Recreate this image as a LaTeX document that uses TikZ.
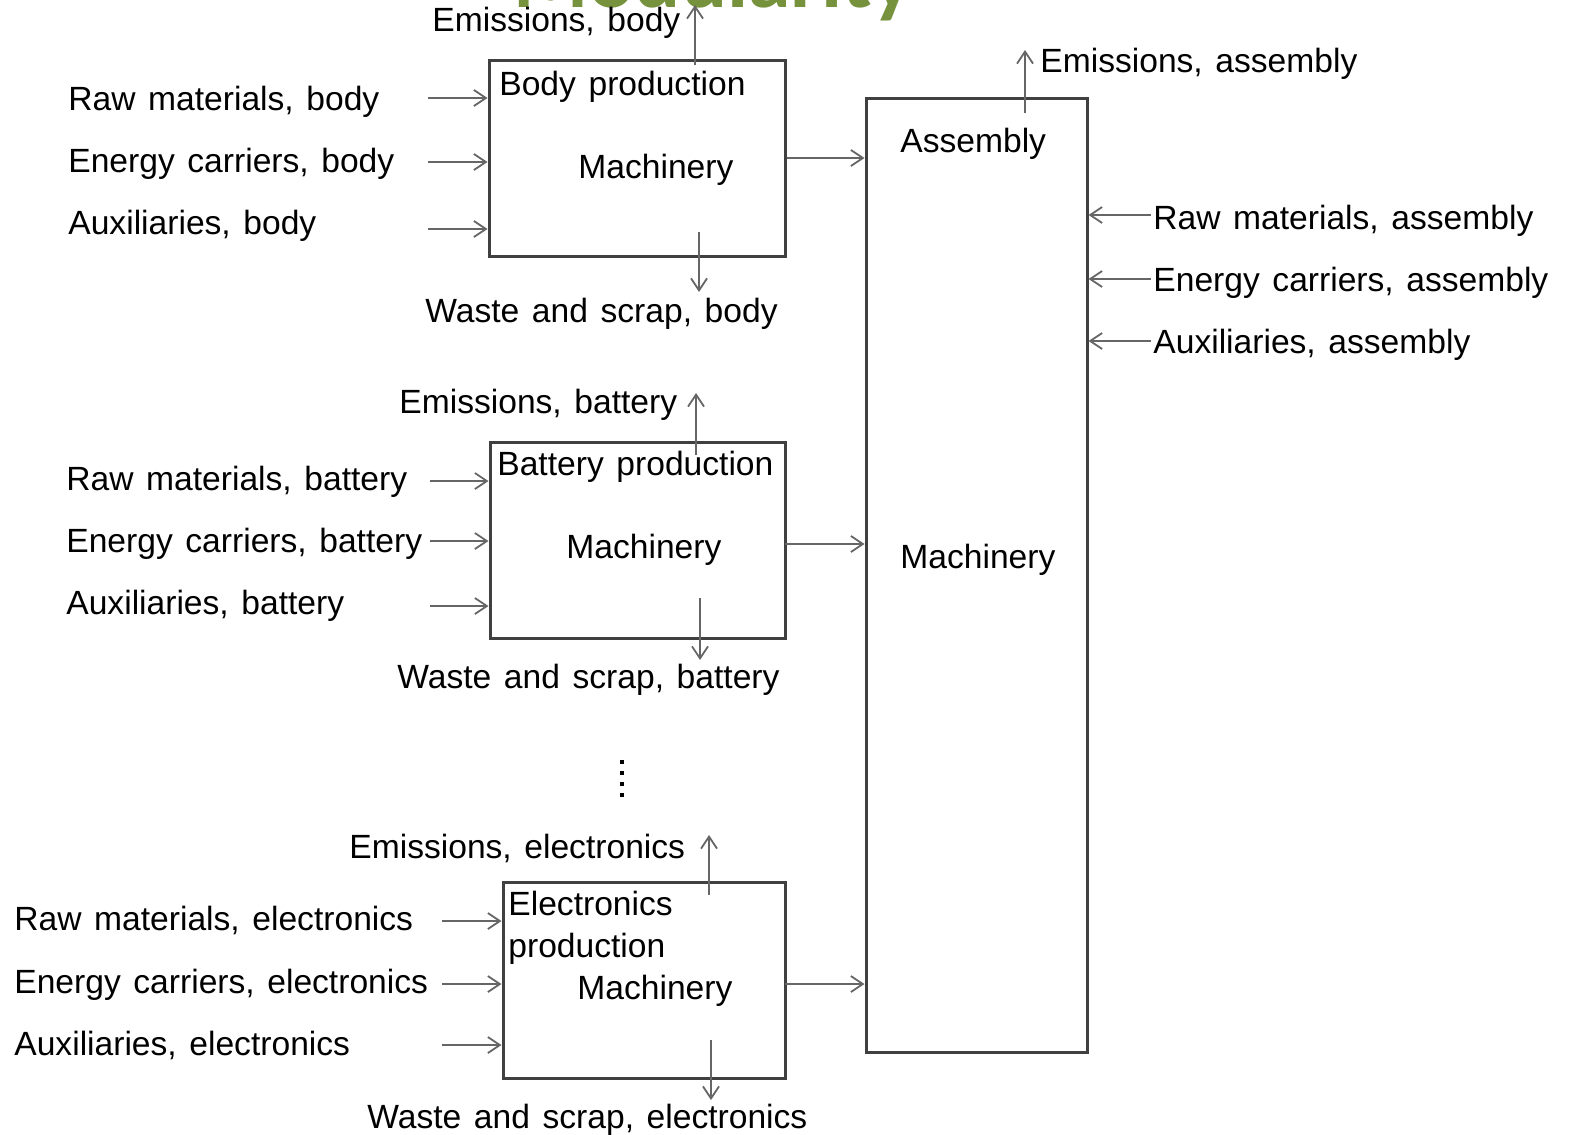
\documentclass[tikz,border=0pt]{standalone}
\usepackage{fontspec}
\setmainfont{Liberation Sans}[WordSpace=1.35]
\newfontfamily\titlefont{Carlito}
\usetikzlibrary{arrows.meta,fit}
\definecolor{boxline}{HTML}{404040}
\definecolor{flow}{HTML}{666666}
\definecolor{titlegreen}{HTML}{76923C}
\begin{document}
\begin{tikzpicture}[x=0.5pt,y=-0.5pt,
  box/.style={draw=boxline,line width=1.5pt,inner sep=0pt},
  flowarrow/.style={draw=flow,line width=1pt,-{Straight Barb[length=6pt,width=8pt,line width=0.9pt]}},
  lbl/.style={anchor=base west,inner sep=0pt,font=\fontsize{16.8}{19}\selectfont}]
\useasboundingbox (0,0) rectangle (1569,1135);
\fill[white] (0,0) rectangle (1569,1135);

% heading above the picture, only its lower edge in view
\begin{scope}
\clip (0,0) rectangle (1569,1135);
\node[anchor=base west,inner sep=0pt,text=titlegreen,font=\titlefont\bfseries\fontsize{43}{46}\selectfont] (title) at (513,7) {Modularity};
\end{scope}

% process boxes
\node[box,fit={(489,60)(785,256)}] (body) {};
\node[box,fit={(490,442)(785,638)}] (batt) {};
\node[box,fit={(503,882)(785,1078)}] (elec) {};
\node[box,fit={(866,98)(1087,1052)}] (asm) {};

% ---------------- body production ----------------
\node[lbl] (bodyT) at (499,95) {Body production};
\node[lbl] (bodyM) at (578,178) {Machinery};
\node[lbl] (bodyR) at (68,110) {Raw materials, body};
\node[lbl] (bodyE) at (68,172) {Energy carriers, body};
\node[lbl] (bodyA) at (68,234) {Auxiliaries, body};
\node[lbl] (bodyEm) at (432,32) {Emissions, body};
\node[lbl] (bodyW) at (425,322) {Waste and scrap, body};
\coordinate (bodyIn1) at (428,98);
\coordinate (bodyIn2) at (428,162);
\coordinate (bodyIn3) at (428,229);
\coordinate (bodyEm0) at (695,65);
\coordinate (bodyEm1) at (695,5);
\coordinate (bodyW0) at (699,232);
\coordinate (bodyW1) at (699,292);
\foreach \c in {bodyIn1,bodyIn2,bodyIn3}
  \draw[flowarrow] (\c) -- (\c -| body.west);
\draw[flowarrow] (bodyEm0) -- (bodyEm1);
\draw[flowarrow] (bodyW0) -- (bodyW1);
\draw[flowarrow] (body.east) -- (body.east -| asm.west);

% ---------------- battery production ----------------
\node[lbl] (battT) at (497,475) {Battery production};
\node[lbl] (battM) at (566,558) {Machinery};
\node[lbl] (battR) at (66,490) {Raw materials, battery};
\node[lbl] (battE) at (66,552) {Energy carriers, battery};
\node[lbl] (battA) at (66,614) {Auxiliaries, battery};
\node[lbl] (battEm) at (399,413) {Emissions, battery};
\node[lbl] (battW) at (397,688) {Waste and scrap, battery};
\coordinate (battIn1) at (430,481);
\coordinate (battIn2) at (430,541);
\coordinate (battIn3) at (430,606);
\coordinate (battEm0) at (696,455);
\coordinate (battEm1) at (696,393);
\coordinate (battW0) at (700,598);
\coordinate (battW1) at (700,660);
\coordinate (battOut) at (785,544);
\foreach \c in {battIn1,battIn2,battIn3}
  \draw[flowarrow] (\c) -- (\c -| batt.west);
\draw[flowarrow] (battEm0) -- (battEm1);
\draw[flowarrow] (battW0) -- (battW1);
\draw[flowarrow] (battOut) -- (battOut -| asm.west);

% further modules omitted
\foreach \yy in {762,773,784,795}
  \fill (620,\yy-2) rectangle (624,\yy+2);

% ---------------- electronics production ----------------
\node[lbl] (elecT1) at (508,915) {Electronics};
\node[lbl] (elecT2) at (508,957) {production};
\node[lbl] (elecM) at (577,999) {Machinery};
\node[lbl] (elecR) at (14,930) {Raw materials, electronics};
\node[lbl] (elecE) at (14,993) {Energy carriers, electronics};
\node[lbl] (elecA) at (14,1055) {Auxiliaries, electronics};
\node[lbl] (elecEm) at (349,858) {Emissions, electronics};
\node[lbl] (elecW) at (367,1128) {Waste and scrap, electronics};
\coordinate (elecIn1) at (442,921);
\coordinate (elecIn2) at (442,984);
\coordinate (elecIn3) at (442,1045);
\coordinate (elecEm0) at (709,895);
\coordinate (elecEm1) at (709,835);
\coordinate (elecW0) at (711,1040);
\coordinate (elecW1) at (711,1100);
\coordinate (elecOut) at (785,984);
\foreach \c in {elecIn1,elecIn2,elecIn3}
  \draw[flowarrow] (\c) -- (\c -| elec.west);
\draw[flowarrow] (elecEm0) -- (elecEm1);
\draw[flowarrow] (elecW0) -- (elecW1);
\draw[flowarrow] (elecOut) -- (elecOut -| asm.west);

% ---------------- assembly ----------------
\node[lbl] (asmT) at (900,152) {Assembly};
\node[lbl] (asmM) at (900,568) {Machinery};
\node[lbl] (asmEm) at (1040,72) {Emissions, assembly};
\node[lbl] (asmR) at (1153,229) {Raw materials, assembly};
\node[lbl] (asmE) at (1153,291) {Energy carriers, assembly};
\node[lbl] (asmA) at (1153,353) {Auxiliaries, assembly};
\coordinate (asmIn1) at (1151,215);
\coordinate (asmIn2) at (1151,279);
\coordinate (asmIn3) at (1151,341);
\coordinate (asmEm0) at (1025,113);
\coordinate (asmEm1) at (1025,50);
\foreach \c in {asmIn1,asmIn2,asmIn3}
  \draw[flowarrow] (\c) -- (\c -| asm.east);
\draw[flowarrow] (asmEm0) -- (asmEm1);
\end{tikzpicture}
\end{document}
